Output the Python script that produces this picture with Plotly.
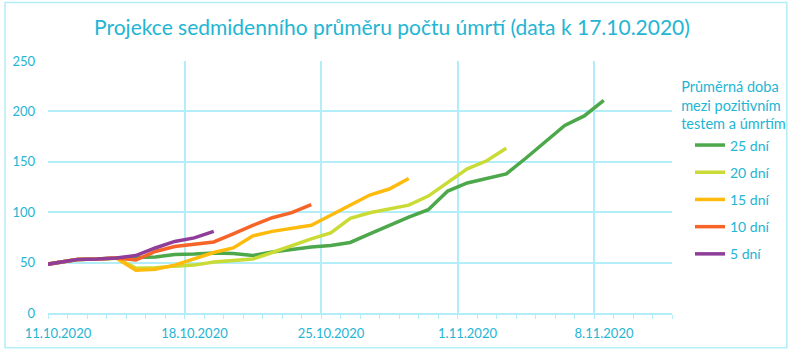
import plotly.graph_objects as go
import pandas as pd

# shared observed history, 10.10.2020 - 14.10.2020 (daily, 7-day average deaths)
history = [47, 50, 53, 53.5, 54.5]

# projections from 15.10.2020 onward
proj_25 = [55, 55.5, 58, 58.5, 59.5, 59, 57, 60.5, 63, 65.5, 67, 70, 78.5, 87, 95,
           102.5, 121, 129, 133.5, 138, 153.5, 169.5, 186, 195.5, 211]
proj_20 = [44.5, 45, 46.5, 47.5, 50.5, 52, 53.5, 60, 67, 73.5, 79.5, 94, 99.5, 103.5,
           107, 116, 130, 143, 151, 163.5]
proj_15 = [42.5, 43.5, 47.5, 53.5, 60, 64.5, 76.5, 81, 84, 87, 97, 107, 117, 123, 133.5]
proj_10 = [52.5, 61, 66, 68.5, 70.5, 78.5, 87, 94.5, 99.5, 107.5]
proj_5 = [57, 64.5, 71, 74.5, 81]

series_names = ["25 dní", "20 dní", "15 dní", "10 dní", "5 dní"]
series_colors = ["#4CA84A", "#CADB36", "#FFBB0D", "#F76428", "#8E3E98"]
series_proj = [proj_25, proj_20, proj_15, proj_10, proj_5]

start_date = "2020-10-10 12:00"
tick_dates = ["2020-10-11", "2020-10-18", "2020-10-25", "2020-11-01", "2020-11-08"]

text_color = "#23B5D3"
grid_color = "#B3EDF7"

fig = go.Figure()
for name, color, proj in zip(series_names, series_colors, series_proj):
    vals = history + proj
    dates = pd.date_range(start_date, periods=len(vals), freq="D")
    fig.add_trace(go.Scatter(
        x=dates, y=vals, mode="lines", name=name, legendgroup=name,
        line=dict(color=color, width=3.5),
    ))

fig.update_layout(
    width=800, height=353,
    margin=dict(l=47, r=128, t=61, b=38),
    paper_bgcolor="white", plot_bgcolor="white",
    font=dict(family="Lato", size=13, color=text_color),
    title=dict(text="Projekce sedmidenního průměru počtu úmrtí (data k 17.10.2020)",
               x=0.49, xanchor="center", y=1 - 28 / 353, yanchor="middle",
               font=dict(size=21, color=text_color)),
    legend=dict(
        x=(679 - 47) / 625, xanchor="left", y=(315 - 73) / 254, yanchor="top",
        title=dict(text="Průměrná doba<br>mezi pozitivním<br>testem a úmrtím",
                   side="top center", font=dict(size=14.5, color=text_color)),
        font=dict(size=14, color=text_color),
        traceorder="grouped", tracegroupgap=6,
        indentation=11,
        bgcolor="rgba(0,0,0,0)",
    ),
    xaxis=dict(
        type="date",
        range=["2020-10-11", "2020-11-12"],
        tickvals=tick_dates,
        tickformat="%-d.%-m.%Y",
        ticklabelshift=10,
        showgrid=True, gridcolor=grid_color, gridwidth=1.5,
        showline=True, linecolor=grid_color, linewidth=1.5,
        ticks="outside", ticklen=4, tickcolor=grid_color, tickwidth=1,
        minor=dict(dtick=86400000, tick0="2020-10-11", ticks="outside", ticklen=4,
                   tickcolor=grid_color, showgrid=False),
        ticklabelstandoff=4,
        zeroline=False,
    ),
    yaxis=dict(
        range=[0, 250], dtick=50,
        showgrid=True, gridcolor=grid_color, gridwidth=1.5,
        zeroline=False, showline=False,
        ticklabelstandoff=12,
    ),
    shapes=[dict(type="rect", xref="paper", yref="paper",
                 x0=(4 - 47) / 625, x1=(787 - 47) / 625,
                 y0=(315 - 350) / 254, y1=(315 - 2) / 254,
                 line=dict(color=grid_color, width=1.5), layer="below")],
)

fig.write_html("out.html")
